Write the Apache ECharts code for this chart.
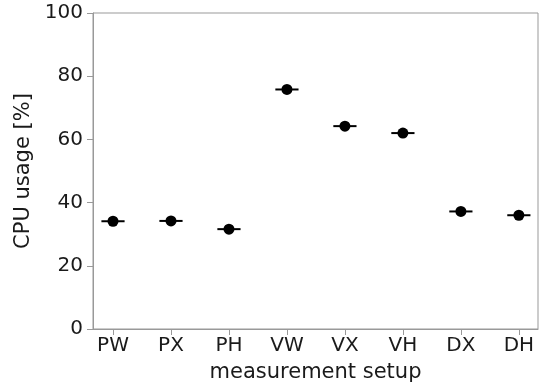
<!DOCTYPE html>
<html>
<head>
<meta charset="utf-8">
<script src="https://cdn.jsdelivr.net/npm/echarts@6/dist/echarts.min.js"></script>
<style>
  html, body { margin: 0; padding: 0; background: #fff; }
  #chart { width: 546px; height: 390px; }
</style>
</head>
<body>
<div id="chart"></div>
<script>
const setups = ['PW', 'PX', 'PH', 'VW', 'VX', 'VH', 'DX', 'DH'];
const cpuUsage = [34.1, 34.2, 31.6, 75.8, 64.2, 62.0, 37.2, 36.0];
const errHalfWidth = [0.2, 0.2, 0.2, 0.2, 0.2, 0.2, 0.2, 0.2];
const yTicks = [0, 20, 40, 60, 80, 100];

const font = 'DejaVu Sans';
const textColor = '#1a1a1a';
const spine = '#999';
const positions = setups.map((_, i) => i);
const points = cpuUsage.map((v, i) => [i, v, errHalfWidth[i]]);

const chart = echarts.init(document.getElementById('chart'));

chart.setOption({
  animation: false,
  backgroundColor: '#fff',
  grid: { left: 93, right: 8, top: 13, bottom: 61, show: true, borderColor: spine, borderWidth: 1 },
  xAxis: {
    type: 'value',
    min: -0.345,
    max: 7.33,
    name: 'measurement setup',
    nameLocation: 'middle',
    nameGap: 33,
    nameTextStyle: { fontFamily: font, fontSize: 21, color: textColor },
    axisLine: { show: true, onZero: false, lineStyle: { color: spine } },
    axisTick: { show: true, customValues: positions, length: 6, lineStyle: { color: spine } },
    axisLabel: {
      customValues: positions,
      formatter: (v) => setups[Math.round(v)],
      fontFamily: font, fontSize: 20, color: textColor, margin: 7
    },
    splitLine: { show: false }
  },
  yAxis: {
    type: 'value',
    min: 0,
    max: 100,
    interval: 20,
    name: 'CPU usage [%]',
    nameLocation: 'middle',
    nameGap: 57,
    nameTextStyle: { fontFamily: font, fontSize: 21, color: textColor },
    axisLine: { show: true, onZero: false, lineStyle: { color: spine } },
    axisTick: { show: true, length: 6, lineStyle: { color: spine } },
    axisLabel: {
      formatter: (v) => (yTicks.includes(v) ? String(v) : ''),
      fontFamily: font, fontSize: 20, color: textColor, margin: 10
    },
    splitLine: { show: false }
  },
  series: [
    {
      type: 'custom',
      data: points,
      renderItem: (params, api) => {
        const x = api.value(0), y = api.value(1), w = api.value(2);
        const a = api.coord([x - w, y]);
        const b = api.coord([x + w, y]);
        return {
          type: 'line',
          shape: { x1: a[0], y1: a[1], x2: b[0], y2: b[1] },
          style: { stroke: '#000', lineWidth: 2 }
        };
      },
      z: 2
    },
    {
      type: 'scatter',
      data: points.map(p => [p[0], p[1]]),
      symbol: 'circle',
      symbolSize: 11,
      itemStyle: { color: '#000', opacity: 1 },
      z: 3
    }
  ]
});
</script>
</body>
</html>
